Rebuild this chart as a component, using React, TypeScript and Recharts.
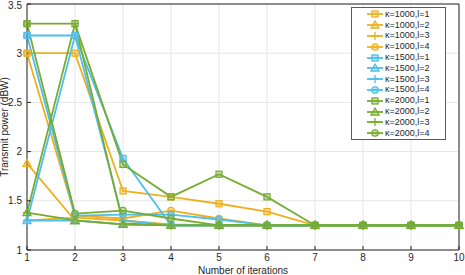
import React from 'react';
import { LineChart, Line, XAxis, YAxis, CartesianGrid, Legend } from 'recharts';

const iterations = [1, 2, 3, 4, 5, 6, 7, 8, 9, 10];
const yTicks = [1, 1.5, 2, 2.5, 3, 3.5];

const k1000l1 = [3.0, 3.0, 1.6, 1.54, 1.47, 1.39, 1.25, 1.25, 1.25, 1.25];
const k1000l2 = [1.88, 1.3, 1.26, 1.25, 1.25, 1.25, 1.25, 1.25, 1.25, 1.25];
const k1000l3 = [1.3, 1.33, 1.3, 1.26, 1.25, 1.25, 1.25, 1.25, 1.25, 1.25];
const k1000l4 = [3.0, 1.35, 1.32, 1.4, 1.32, 1.25, 1.25, 1.25, 1.25, 1.25];
const k1500l1 = [3.18, 3.18, 1.93, 1.25, 1.25, 1.25, 1.25, 1.25, 1.25, 1.25];
const k1500l2 = [1.3, 1.3, 1.26, 1.25, 1.25, 1.25, 1.25, 1.25, 1.25, 1.25];
const k1500l3 = [1.3, 3.18, 1.3, 1.25, 1.25, 1.25, 1.25, 1.25, 1.25, 1.25];
const k1500l4 = [3.18, 1.35, 1.36, 1.36, 1.31, 1.25, 1.25, 1.25, 1.25, 1.25];
const k2000l1 = [3.3, 3.3, 1.87, 1.54, 1.77, 1.54, 1.25, 1.25, 1.25, 1.25];
const k2000l2 = [1.38, 1.3, 1.26, 1.25, 1.25, 1.25, 1.25, 1.25, 1.25, 1.25];
const k2000l3 = [1.38, 3.3, 1.27, 1.25, 1.25, 1.25, 1.25, 1.25, 1.25, 1.25];
const k2000l4 = [3.3, 1.37, 1.4, 1.32, 1.25, 1.25, 1.25, 1.25, 1.25, 1.25];

const ORANGE = '#EDB120';
const BLUE = '#4DBEEE';
const GREEN = '#77AC30';

type Shape = 'square' | 'triangle' | 'plus' | 'circle';

const series: { name: string; data: number[]; color: string; shape: Shape }[] = [
  { name: 'κ=1000,l=1', data: k1000l1, color: ORANGE, shape: 'square' },
  { name: 'κ=1000,l=2', data: k1000l2, color: ORANGE, shape: 'triangle' },
  { name: 'κ=1000,l=3', data: k1000l3, color: ORANGE, shape: 'plus' },
  { name: 'κ=1000,l=4', data: k1000l4, color: ORANGE, shape: 'circle' },
  { name: 'κ=1500,l=1', data: k1500l1, color: BLUE, shape: 'square' },
  { name: 'κ=1500,l=2', data: k1500l2, color: BLUE, shape: 'triangle' },
  { name: 'κ=1500,l=3', data: k1500l3, color: BLUE, shape: 'plus' },
  { name: 'κ=1500,l=4', data: k1500l4, color: BLUE, shape: 'circle' },
  { name: 'κ=2000,l=1', data: k2000l1, color: GREEN, shape: 'square' },
  { name: 'κ=2000,l=2', data: k2000l2, color: GREEN, shape: 'triangle' },
  { name: 'κ=2000,l=3', data: k2000l3, color: GREEN, shape: 'plus' },
  { name: 'κ=2000,l=4', data: k2000l4, color: GREEN, shape: 'circle' },
];

const chartData = iterations.map((it, i) => {
  const row: Record<string, number> = { it };
  series.forEach((s, j) => {
    row[`s${j}`] = s.data[i];
  });
  return row;
});

const FONT = '"Liberation Sans", Arial, sans-serif';
const AXIS = '#262626';

const Marker = ({ cx, cy, shape, color }: { cx: number; cy: number; shape: Shape; color: string }) => {
  const common = { stroke: color, strokeWidth: 1.3, fill: color, fillOpacity: 0.35 };
  if (shape === 'square') return <rect x={cx - 3} y={cy - 3} width={6} height={6} {...common} />;
  if (shape === 'triangle')
    return <polygon points={`${cx},${cy - 4} ${cx - 4},${cy + 3} ${cx + 4},${cy + 3}`} {...common} />;
  if (shape === 'circle') return <circle cx={cx} cy={cy} r={3.2} {...common} />;
  return (
    <path d={`M${cx - 4},${cy}H${cx + 4}M${cx},${cy - 4}V${cy + 4}`} stroke={color} strokeWidth={1.3} fill="none" />
  );
};

const makeDot = (shape: Shape, color: string) => (props: any) => {
  const { cx, cy, index } = props;
  if (cx == null || cy == null) return <g key={`d-${index}`} />;
  return (
    <g key={`d-${index}`}>
      <Marker cx={cx} cy={cy} shape={shape} color={color} />
    </g>
  );
};

// legend drawn by hand, MATLAB style box
const LegendBox = () => (
  <div
    style={{
      width: 95,
      height: 133,
      border: '1px solid #5a5a5a',
      background: '#fff',
      boxSizing: 'border-box',
      paddingTop: 1,
      fontFamily: FONT,
      fontSize: 9,
      color: AXIS,
    }}
  >
    {series.map((s) => (
      <div key={s.name} style={{ height: 10.8, display: 'flex', alignItems: 'center', whiteSpace: 'nowrap', overflow: 'hidden' }}>
        <svg width={32} height={10} style={{ flexShrink: 0 }}>
          <line x1={15} y1={5} x2={31} y2={5} stroke={s.color} strokeWidth={1.8} />
          <Marker cx={23} cy={5} shape={s.shape} color={s.color} />
        </svg>
        <span style={{ marginLeft: 1, lineHeight: '9px' }}>{s.name}</span>
      </div>
    ))}
  </div>
);

export default function App() {
  return (
    <div style={{ position: 'fixed', left: 0, top: 0, width: 465, height: 275, background: '#fff' }}>
      <LineChart width={465} height={275} data={chartData} margin={{ top: 3, right: 5, bottom: 0, left: 0 }}>
        <CartesianGrid stroke="#e6e6e6" strokeWidth={1} />
        <XAxis
          dataKey="it"
          type="number"
          domain={[1, 10]}
          ticks={iterations}
          height={25}
          tickSize={-4}
          tickMargin={8}
          stroke={AXIS}
          tick={{ fill: AXIS, fontSize: 10, fontFamily: FONT }}
          label={({ viewBox }: any) => (
            <text
              x={viewBox.x + viewBox.width / 2}
              y={274}
              textAnchor="middle"
              fill={AXIS}
              fontSize={10}
              fontFamily={FONT}
            >
              Number of iterations
            </text>
          )}
        />
        <XAxis
          xAxisId="top"
          orientation="top"
          dataKey="it"
          type="number"
          domain={[1, 10]}
          ticks={iterations}
          height={1}
          tickSize={-4}
          tick={false}
          stroke={AXIS}
        />
        <YAxis
          type="number"
          domain={[1, 3.5]}
          ticks={yTicks}
          width={27}
          tickSize={-4}
          tickMargin={9}
          stroke={AXIS}
          tick={{ fill: AXIS, fontSize: 10, fontFamily: FONT }}
          label={({ viewBox }: any) => {
            const cy = viewBox.y + viewBox.height / 2;
            return (
              <text
                x={8}
                y={cy}
                transform={`rotate(-90, 8, ${cy})`}
                textAnchor="middle"
                fill={AXIS}
                fontSize={10}
                fontFamily={FONT}
              >
                Transmit power (dBW)
              </text>
            );
          }}
        />
        <YAxis
          yAxisId="right"
          orientation="right"
          type="number"
          domain={[1, 3.5]}
          ticks={yTicks}
          width={1}
          tickSize={-4}
          tick={false}
          stroke={AXIS}
        />
        <Legend
          layout="vertical"
          align="center"
          verticalAlign="middle"
          content={<LegendBox />}
          wrapperStyle={{ position: 'absolute', left: 351, top: 7, width: 95, height: 133 }}
        />
        {series.map((s, j) => (
          <Line
            key={s.name}
            dataKey={`s${j}`}
            name={s.name}
            stroke={s.color}
            strokeWidth={1.8}
            dot={makeDot(s.shape, s.color)}
            activeDot={false}
            isAnimationActive={false}
          />
        ))}
      </LineChart>
    </div>
  );
}
